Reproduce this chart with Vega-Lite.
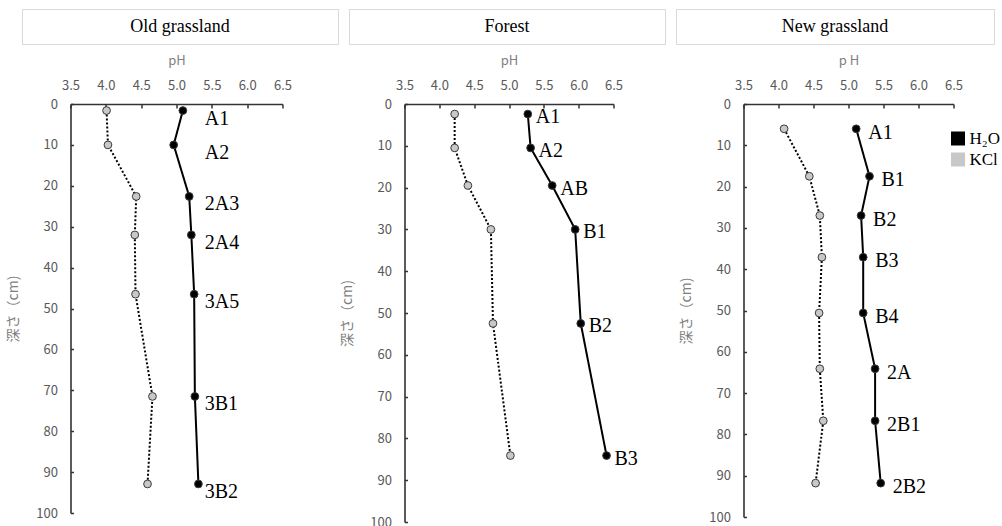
{
  "$schema": "https://vega.github.io/schema/vega-lite/v6.json",
  "padding": {"left": 6, "top": 8, "right": 0, "bottom": 0},
  "background": "white",
  "config": {
    "view": {"stroke": null},
    "axis": {
      "grid": false,
      "labelFont": "Noto Sans CJK JP",
      "labelFontSize": 13,
      "labelColor": "#595959",
      "titleFont": "Noto Sans CJK JP",
      "titleFontSize": 13,
      "titleFontWeight": "normal",
      "titleColor": "#7f7f7f",
      "domainColor": "#333333",
      "domainWidth": 1.6,
      "tickColor": "#333333",
      "tickWidth": 1.5
    },
    "axisX": {
      "orient": "top",
      "values": [3.5, 4, 4.5, 5, 5.5, 6, 6.5],
      "format": ".1f",
      "labelFlush": false,
      "tickSize": -4,
      "labelPadding": 16,
      "titlePadding": 12
    },
    "axisY": {
      "values": [0, 10, 20, 30, 40, 50, 60, 70, 80, 90, 100],
      "tickSize": -3,
      "labelPadding": 16,
      "titlePadding": 15,
      "titleFontSize": 14
    }
  },
  "datasets": {
    "old": [
      {"horizon": "A1", "depth": 1.6, "method": "H₂O", "pH": 5.09},
      {"horizon": "A2", "depth": 10.0, "method": "H₂O", "pH": 4.96},
      {"horizon": "2A3", "depth": 22.6, "method": "H₂O", "pH": 5.18},
      {"horizon": "2A4", "depth": 32.0, "method": "H₂O", "pH": 5.21},
      {"horizon": "3A5", "depth": 46.5, "method": "H₂O", "pH": 5.25},
      {"horizon": "3B1", "depth": 71.5, "method": "H₂O", "pH": 5.26},
      {"horizon": "3B2", "depth": 92.9, "method": "H₂O", "pH": 5.31},
      {"horizon": "A1", "depth": 1.6, "method": "KCl", "pH": 4.01},
      {"horizon": "A2", "depth": 10.0, "method": "KCl", "pH": 4.03},
      {"horizon": "2A3", "depth": 22.6, "method": "KCl", "pH": 4.43},
      {"horizon": "2A4", "depth": 32.0, "method": "KCl", "pH": 4.41},
      {"horizon": "3A5", "depth": 46.5, "method": "KCl", "pH": 4.42},
      {"horizon": "3B1", "depth": 71.5, "method": "KCl", "pH": 4.66},
      {"horizon": "3B2", "depth": 92.9, "method": "KCl", "pH": 4.59}
    ],
    "forest": [
      {"horizon": "A1", "depth": 2.4, "method": "H₂O", "pH": 5.27},
      {"horizon": "A2", "depth": 10.5, "method": "H₂O", "pH": 5.31},
      {"horizon": "AB", "depth": 19.5, "method": "H₂O", "pH": 5.62},
      {"horizon": "B1", "depth": 30.0, "method": "H₂O", "pH": 5.95},
      {"horizon": "B2", "depth": 52.5, "method": "H₂O", "pH": 6.03},
      {"horizon": "B3", "depth": 84.1, "method": "H₂O", "pH": 6.40},
      {"horizon": "A1", "depth": 2.4, "method": "KCl", "pH": 4.22},
      {"horizon": "A2", "depth": 10.5, "method": "KCl", "pH": 4.22},
      {"horizon": "AB", "depth": 19.5, "method": "KCl", "pH": 4.41},
      {"horizon": "B1", "depth": 30.0, "method": "KCl", "pH": 4.74},
      {"horizon": "B2", "depth": 52.5, "method": "KCl", "pH": 4.77},
      {"horizon": "B3", "depth": 84.1, "method": "KCl", "pH": 5.02}
    ],
    "newg": [
      {"horizon": "A1", "depth": 6.0, "method": "H₂O", "pH": 5.11},
      {"horizon": "B1", "depth": 17.5, "method": "H₂O", "pH": 5.30},
      {"horizon": "B2", "depth": 27.0, "method": "H₂O", "pH": 5.18},
      {"horizon": "B3", "depth": 37.1, "method": "H₂O", "pH": 5.21},
      {"horizon": "B4", "depth": 50.6, "method": "H₂O", "pH": 5.21},
      {"horizon": "2A", "depth": 64.1, "method": "H₂O", "pH": 5.38},
      {"horizon": "2B1", "depth": 76.7, "method": "H₂O", "pH": 5.38},
      {"horizon": "2B2", "depth": 91.8, "method": "H₂O", "pH": 5.46},
      {"horizon": "A1", "depth": 6.0, "method": "KCl", "pH": 4.08},
      {"horizon": "B1", "depth": 17.5, "method": "KCl", "pH": 4.44},
      {"horizon": "B2", "depth": 27.0, "method": "KCl", "pH": 4.59},
      {"horizon": "B3", "depth": 37.1, "method": "KCl", "pH": 4.62},
      {"horizon": "B4", "depth": 50.6, "method": "KCl", "pH": 4.58},
      {"horizon": "2A", "depth": 64.1, "method": "KCl", "pH": 4.59},
      {"horizon": "2B1", "depth": 76.7, "method": "KCl", "pH": 4.64},
      {"horizon": "2B2", "depth": 91.8, "method": "KCl", "pH": 4.53}
    ]
  },
  "spacing": 9,
  "center": true,
  "vconcat": [
    {
      "spacing": 9,
      "hconcat": [
        {"width": 316, "height": 35, "data": {"values": [{"t": "Old grassland"}]}, "view": {"stroke": "#d9d9d9", "strokeWidth": 1},
         "mark": {"type": "text", "font": "Liberation Serif", "fontSize": 18, "color": "#000000"}, "encoding": {"text": {"field": "t"}}},
        {"width": 316, "height": 35, "data": {"values": [{"t": "Forest"}]}, "view": {"stroke": "#d9d9d9", "strokeWidth": 1},
         "mark": {"type": "text", "font": "Liberation Serif", "fontSize": 18, "color": "#000000"}, "encoding": {"text": {"field": "t"}}},
        {"width": 318, "height": 35, "data": {"values": [{"t": "New grassland"}]}, "view": {"stroke": "#d9d9d9", "strokeWidth": 1},
         "mark": {"type": "text", "font": "Liberation Serif", "fontSize": 18, "color": "#000000"}, "encoding": {"text": {"field": "t"}}},
        {"width": 45, "height": 10, "data": {"values": [{"t": ""}]}, "mark": {"type": "text"}, "encoding": {"text": {"field": "t"}}}
      ]
    },
    {
      "spacing": 0,
      "resolve": {"scale": {"fill": "independent", "strokeDash": "independent"}, "legend": {"fill": "independent", "strokeDash": "independent"}},
      "hconcat": [
        {
          "width": 212, "height": 409,
          "data": {"name": "old"},
          "encoding": {
            "x": {"field": "pH", "type": "quantitative", "scale": {"domain": [3.5, 6.5], "nice": false, "zero": false}, "axis": {"title": "pH"}},
            "y": {"field": "depth", "type": "quantitative", "scale": {"domain": [0, 100], "reverse": true, "nice": false, "zero": false}, "axis": {"title": "深さ（cm)"}}
          },
          "layer": [
            {"mark": {"type": "line", "color": "#000000", "strokeWidth": 2},
             "encoding": {
               "detail": {"field": "method"},
               "order": {"field": "depth", "type": "quantitative"},
               "strokeDash": {"field": "method", "type": "nominal", "scale": {"range": [[1, 0], [2, 2]]}, "legend": null}
             }},
            {"mark": {"type": "point", "filled": true, "size": 60, "strokeWidth": 1, "stroke": "#3a3a3a", "opacity": 1},
             "encoding": {
               "fill": {"field": "method", "type": "nominal", "scale": {"domain": ["H₂O", "KCl"], "range": ["#000000", "#c8c8c8"]}, "legend": null}
             }},
            {"transform": [{"filter": "datum.method == 'H₂O'"}],
             "mark": {"type": "text", "align": "left", "baseline": "middle", "dy": 8, "font": "Liberation Serif", "fontSize": 20, "color": "#000000"},
             "encoding": {"x": {"datum": 5.4, "type": "quantitative", "axis": {"title": "pH"}}, "text": {"field": "horizon"}}}
          ]
        },
        {"width": 48, "height": 10, "data": {"values": [{"t": ""}]}, "mark": {"type": "text"}, "encoding": {"text": {"field": "t"}}},
        {
          "width": 209, "height": 418,
          "data": {"name": "forest"},
          "encoding": {
            "x": {"field": "pH", "type": "quantitative", "scale": {"domain": [3.5, 6.5], "nice": false, "zero": false}, "axis": {"title": "pH"}},
            "y": {"field": "depth", "type": "quantitative", "scale": {"domain": [0, 100], "reverse": true, "nice": false, "zero": false}, "axis": {"title": "深さ（cm)"}}
          },
          "layer": [
            {"mark": {"type": "line", "color": "#000000", "strokeWidth": 2},
             "encoding": {
               "detail": {"field": "method"},
               "order": {"field": "depth", "type": "quantitative"},
               "strokeDash": {"field": "method", "type": "nominal", "scale": {"range": [[1, 0], [2, 2]]}, "legend": null}
             }},
            {"mark": {"type": "point", "filled": true, "size": 60, "strokeWidth": 1, "stroke": "#3a3a3a", "opacity": 1},
             "encoding": {
               "fill": {"field": "method", "type": "nominal", "scale": {"domain": ["H₂O", "KCl"], "range": ["#000000", "#c8c8c8"]}, "legend": null}
             }},
            {"transform": [{"filter": "datum.method == 'H₂O'"}],
             "mark": {"type": "text", "align": "left", "baseline": "middle", "dx": 8, "dy": 3, "font": "Liberation Serif", "fontSize": 20, "color": "#000000"},
             "encoding": {"text": {"field": "horizon"}}}
          ]
        },
        {"width": 41, "height": 10, "data": {"values": [{"t": ""}]}, "mark": {"type": "text"}, "encoding": {"text": {"field": "t"}}},
        {
          "width": 210, "height": 413,
          "data": {"name": "newg"},
          "encoding": {
            "x": {"field": "pH", "type": "quantitative", "scale": {"domain": [3.5, 6.5], "nice": false, "zero": false}, "axis": {"title": "p H"}},
            "y": {"field": "depth", "type": "quantitative", "scale": {"domain": [0, 100], "reverse": true, "nice": false, "zero": false}, "axis": {"title": "深さ（cm)"}}
          },
          "layer": [
            {"mark": {"type": "line", "color": "#000000", "strokeWidth": 2},
             "encoding": {
               "detail": {"field": "method"},
               "order": {"field": "depth", "type": "quantitative"},
               "strokeDash": {"field": "method", "type": "nominal", "scale": {"range": [[1, 0], [2, 2]]}, "legend": null}
             }},
            {"mark": {"type": "point", "filled": true, "size": 60, "strokeWidth": 1, "stroke": "#3a3a3a", "opacity": 1},
             "encoding": {
               "fill": {"field": "method", "type": "nominal", "scale": {"domain": ["H₂O", "KCl"], "range": ["#000000", "#c8c8c8"]},
                        "legend": {"orient": "none", "legendX": 206, "legendY": 26, "padding": 0, "title": null, "symbolType": "square", "symbolSize": 196, "symbolStrokeWidth": 0, "symbolOpacity": 1, "labelFont": "Liberation Serif", "labelFontSize": 17, "labelColor": "#000000", "labelOffset": 3, "rowPadding": 3}}
             }},
            {"transform": [{"filter": "datum.method == 'H₂O'"}],
             "mark": {"type": "text", "align": "left", "baseline": "middle", "dx": 12, "dy": 4, "font": "Liberation Serif", "fontSize": 20, "color": "#000000"},
             "encoding": {"text": {"field": "horizon"}}}
          ]
        }
      ]
    }
  ]
}
